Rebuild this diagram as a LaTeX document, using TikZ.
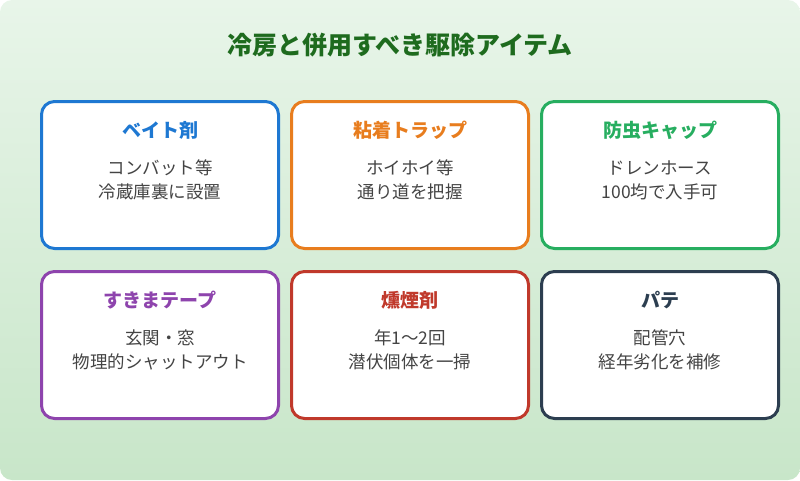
\documentclass[tikz,border=0pt]{standalone}
\usepackage{fontspec}
\setmainfont{Noto Sans CJK JP}
\usetikzlibrary{positioning}
\definecolor{cblue}{HTML}{1E78D2}
\definecolor{corange}{HTML}{E87D1E}
\definecolor{cgreen}{HTML}{27AE60}
\definecolor{cpurple}{HTML}{8E44AD}
\definecolor{cred}{HTML}{C0392B}
\definecolor{cnavy}{HTML}{2C3E50}
\definecolor{ctitle}{HTML}{1E6B1E}
\definecolor{ctext}{HTML}{444444}
\definecolor{bgA}{HTML}{E8F5E9}
\definecolor{bgB}{HTML}{C8E6C9}
\tikzset{
  card/.style={draw=#1, line width=3pt, rounded corners=13pt, fill=white,
    minimum width=237pt, minimum height=147pt, inner sep=0pt},
  head/.style={text=#1, font=\fontsize{19}{22}\selectfont\bfseries},
  body/.style={text=ctext, font=\fontsize{17.5}{24}\selectfont, align=center}
}
\begin{document}
\begin{tikzpicture}[x=1pt,y=-1pt]
\useasboundingbox (0,0) rectangle (800,480);
\shade[shading=axis, shading angle=135, top color=bgA, bottom color=bgB, rounded corners=12pt] (0,0) rectangle (800,480);
\node[text=ctitle, font=\fontsize{25}{28}\selectfont\bfseries] (title) at (400,45) {冷房と併用すべき駆除アイテム};
% top row
\node[card=cblue] (bait) at (160,175) {};
\node[head=cblue] (baitH) at (160,130) {ベイト剤};
\node[body] (baitB) at (160,180) {コンバット等\\冷蔵庫裏に設置};
\node[card=corange] (trap) at (410,175) {};
\node[head=corange] (trapH) at (410,130) {粘着トラップ};
\node[body] (trapB) at (410,180) {ホイホイ等\\通り道を把握};
\node[card=cgreen] (cap) at (660,175) {};
\node[head=cgreen] (capH) at (660,130) {防虫キャップ};
\node[body] (capB) at (660,180) {ドレンホース\\100均で入手可};
% bottom row
\node[card=cpurple] (tape) at (160,345) {};
\node[head=cpurple] (tapeH) at (160,300) {すきまテープ};
\node[body] (tapeB) at (160,350) {玄関・窓\\物理的シャットアウト};
\node[card=cred] (smoke) at (410,345) {};
\node[head=cred] (smokeH) at (410,300) {燻煙剤};
\node[body] (smokeB) at (410,350) {年1〜2回\\潜伏個体を一掃};
\node[card=cnavy] (putty) at (660,345) {};
\node[head=cnavy] (puttyH) at (660,300) {パテ};
\node[body] (puttyB) at (660,350) {配管穴\\経年劣化を補修};
\end{tikzpicture}
\end{document}
